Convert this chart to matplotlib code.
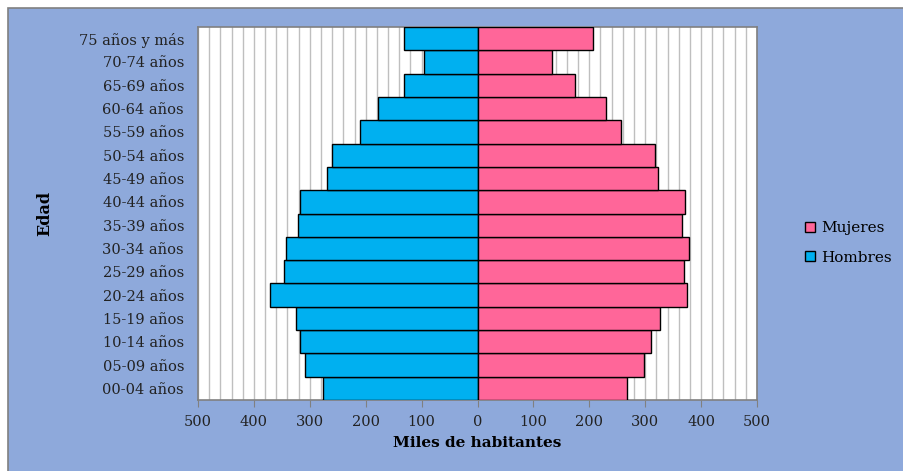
import matplotlib.pyplot as plt
from matplotlib.patches import Rectangle, Patch
import numpy as np

# Age groups (bottom to top)
edades = ["00-04 años", "05-09 años", "10-14 años", "15-19 años", "20-24 años",
          "25-29 años", "30-34 años", "35-39 años", "40-44 años", "45-49 años",
          "50-54 años", "55-59 años", "60-64 años", "65-69 años", "70-74 años",
          "75 años y más"]

# Thousands of inhabitants
hombres = [277, 308, 318, 324, 371, 346, 343, 321, 318, 270, 261, 211, 178, 132, 96, 132]
mujeres = [267, 298, 311, 326, 375, 369, 378, 366, 372, 323, 317, 256, 229, 174, 133, 207]

ticks = [-500, -400, -300, -200, -100, 0, 100, 200, 300, 400, 500]

plt.rcParams["font.family"] = ["DejaVu Serif"]

fondo = "#8EA9DB"
c_hom = "#00B0F0"
c_muj = "#FF6699"

fig = plt.figure(figsize=(9.04, 4.71), dpi=100)
fig.patch.set_facecolor("white")
fig.patches.append(Rectangle((8 / 904, -0.1), 1.1, 0.1 + 463 / 471,
                             transform=fig.transFigure, facecolor=fondo,
                             edgecolor="#808080", linewidth=1.2, zorder=-5))

ax = fig.add_axes([198 / 904, 71 / 471, 559 / 904, 373 / 471])
ax.set_zorder(2)
ax.set_facecolor("white")

y = np.arange(len(edades))
ax.barh(y, -np.array(hombres), height=1.0, color=c_hom, edgecolor="black",
        linewidth=1, zorder=3)
ax.barh(y, mujeres, height=1.0, color=c_muj, edgecolor="black",
        linewidth=1, zorder=3)

ax.set_xlim(-500, 500)
ax.set_ylim(-0.5, len(edades) - 0.5)

ax.set_xticks(ticks)
ax.set_xticklabels([str(abs(t)) for t in ticks], fontsize=10.5, color="#222222")
ax.set_xticks(np.arange(-500, 501, 20), minor=True)
ax.grid(True, axis="x", which="both", color="#BFBFBF", linewidth=1, zorder=0)
ax.tick_params(axis="x", which="major", length=5, color="#808080", pad=6)
ax.tick_params(axis="x", which="minor", length=0)

ax.set_yticks(y)
ax.set_yticklabels(edades, fontsize=10.5, color="#222222")
ax.tick_params(axis="y", length=0, pad=10)

for s in ax.spines.values():
    s.set_color("#808080")
    s.set_linewidth(1.2)

ax.set_xlabel("Miles de habitantes", fontsize=11, fontweight="bold", labelpad=5)
ax.set_ylabel("Edad", fontsize=11.5, fontweight="bold", labelpad=18)

handles = [Patch(facecolor=c_muj, edgecolor="black", label="Mujeres"),
           Patch(facecolor=c_hom, edgecolor="black", label="Hombres")]
fig.legend(handles=handles, loc="center left", bbox_to_anchor=(791 / 904, 1 - 243 / 471),
           frameon=False, fontsize=11, handlelength=0.65, handleheight=0.65,
           handletextpad=0.4, labelspacing=1.0)

fig.savefig("out.png", dpi=100, facecolor=fig.get_facecolor())
